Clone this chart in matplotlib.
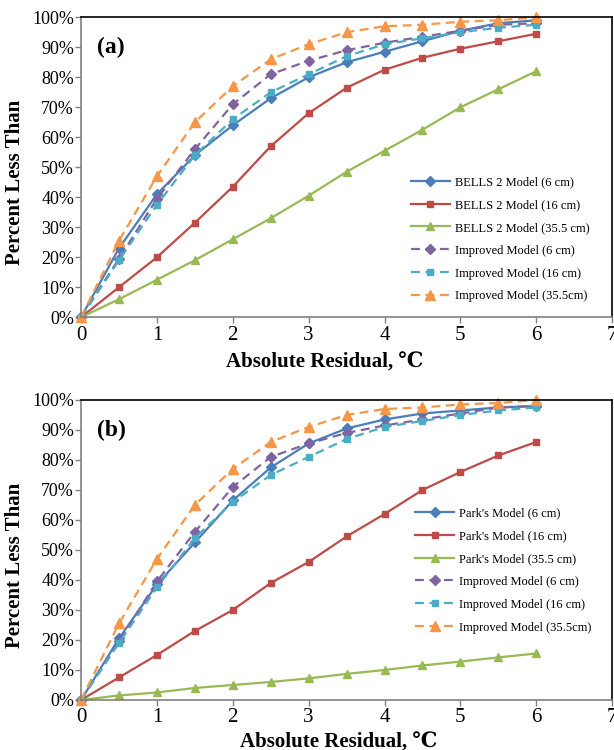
import numpy as np
import matplotlib
matplotlib.use('Agg')
import matplotlib.pyplot as plt
from matplotlib.ticker import FuncFormatter

plt.rcParams['font.family'] = ['Liberation Serif', 'DejaVu Serif']

x = [0, 0.5, 1, 1.5, 2, 2.5, 3, 3.5, 4, 4.5, 5, 5.5, 6]

# panel (a) - BELLS 2 model
bells_6 = [0, 23, 41, 54, 64, 73, 80, 85, 88.5, 92, 95.5, 98, 99]
bells_16 = [0, 10, 20, 31.5, 43.5, 57, 68, 76.5, 82.5, 86.5, 89.5, 92, 94.5]
bells_355 = [0, 6, 12.5, 19, 26, 33, 40.5, 48.5, 55.5, 62.5, 70, 76, 82]

# panel (b) - Park's model
park_6 = [0, 20.5, 38.5, 52.5, 66.5, 77.5, 85.5, 90.5, 93.5, 95.5, 96.5, 97.5, 98]
park_16 = [0, 7.5, 15, 23, 30, 39, 46, 54.5, 62, 70, 76, 81.5, 86]
park_355 = [0, 1.5, 2.5, 4, 5, 6, 7.2, 8.7, 10, 11.5, 12.8, 14.2, 15.5]

# improved model (same in both panels)
imp_6 = [0, 19.5, 39.5, 56, 71, 81, 85.5, 89, 91.5, 93.5, 95.5, 97.5, 98]
imp_16 = [0, 19, 37.5, 54, 66, 75, 81, 87, 91, 93, 95, 96.5, 97.5]
imp_355 = [0, 25.5, 47, 65, 77, 86, 91, 95, 97, 97.5, 98.5, 99, 100]

blue = '#4A7EBB'
red = '#BE4B48'
green = '#98B954'
purple = '#8064A2'
aqua = '#4BACC6'
orange = '#F79646'


def panel(ax, base, name, tag, leg_pos, xlab_pos):
    ax.plot(x, base[0], color=blue, marker='D', ms=5, lw=1.6, label=name + ' (6 cm)')
    ax.plot(x, base[1], color=red, marker='s', ms=5, lw=1.6, label=name + ' (16 cm)')
    ax.plot(x, base[2], color=green, marker='^', ms=6, lw=1.6, label=name + ' (35.5 cm)')
    ax.plot(x, imp_6, color=purple, marker='D', ms=5, lw=1.6, ls=(0, (4, 2.5)), label='Improved Model (6 cm)')
    ax.plot(x, imp_16, color=aqua, marker='s', ms=5, lw=1.6, ls=(0, (4, 2.5)), label='Improved Model (16 cm)')
    ax.plot(x, imp_355, color=orange, marker='^', ms=7, lw=1.6, ls=(0, (4, 2.5)), label='Improved Model (35.5cm)')

    ax.set_xlim(0, 7)
    ax.set_ylim(0, 100)
    ax.set_xticks(range(0, 8))
    ax.set_yticks(range(0, 101, 10))
    ax.yaxis.set_major_formatter(FuncFormatter(lambda v, p: '%d%%' % v))
    ax.tick_params(labelsize=13, direction='out', length=4, color='#808080', width=1)
    ax.tick_params(axis='y', pad=1)
    ax.tick_params(axis='x', labelsize=15, pad=2)
    for s in ['left', 'bottom']:
        ax.spines[s].set_color('#808080')
        ax.spines[s].set_linewidth(1.2)
    for s in ['top', 'right']:
        ax.spines[s].set_color('black')
        ax.spines[s].set_linewidth(1.2)
    for l in ax.get_lines():
        l.set_clip_on(False)

    ax.set_xlabel('Absolute Residual, ℃', fontsize=15, fontweight='bold')
    ax.xaxis.set_label_coords(xlab_pos[0], xlab_pos[1])
    ax.set_ylabel('Percent Less Than', fontsize=15, fontweight='bold')
    ax.yaxis.set_label_coords(-0.105, 0.45)
    ax.text(0.03, 0.9, tag, transform=ax.transAxes, fontsize=17, fontweight='bold', va='center')

    ax.legend(loc='center left', bbox_to_anchor=leg_pos, frameon=False, fontsize=9,
              handlelength=3.1, labelspacing=0.87, handletextpad=0.4)


fig = plt.figure(figsize=(6.14, 7.5), dpi=100)
ax1 = fig.add_axes([0.132, 0.577, 0.865, 0.4])
ax2 = fig.add_axes([0.132, 0.0667, 0.865, 0.4])

panel(ax1, [bells_6, bells_16, bells_355], 'BELLS 2 Model', '(a)', (0.60, 0.26), (0.458, -0.117))
panel(ax2, [park_6, park_16, park_355], "Park's Model", '(b)', (0.608, 0.432), (0.486, -0.11))

fig.savefig('out.png', dpi=100)
